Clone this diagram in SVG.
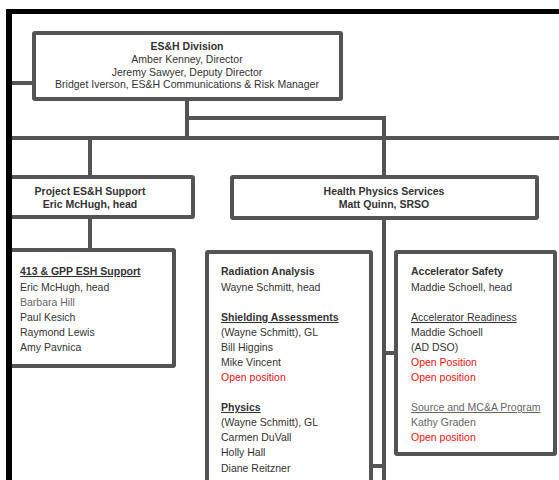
<svg xmlns="http://www.w3.org/2000/svg" width="559" height="480" viewBox="0 0 559 480">
<style>
  .box { fill: #fff; stroke: #545454; stroke-width: 4; }
  .conn { fill: none; stroke: #545454; stroke-width: 4; }
  text { font-family: "Liberation Sans", Arial, sans-serif; font-size: 10.5px; fill: #333; }
  .b { font-weight: bold; }
  .c { text-anchor: middle; }
  .u { text-decoration: underline; }
  .red { fill: #f01010; }
  .gray { fill: #666; }
  .frame { fill: #000; }
</style>
<rect width="559" height="480" fill="#fff"/>
<g id="connectors">
  <path class="conn" d="M12 83 H34"/>
  <path class="conn" d="M187 99 V138"/>
  <path class="conn" d="M187 118 H384 V138"/>
  <path class="conn" d="M10 138 H559"/>
  <path class="conn" d="M90 138 V177"/>
  <path class="conn" d="M384 138 V177"/>
  <path class="conn" d="M90 217 V250"/>
  <path class="conn" d="M384 218 V480"/>
  <path class="conn" d="M384 353 H396"/>
  <path class="conn" d="M371 466 H384"/>
</g>
<g id="esh-division">
  <rect class="box" x="34" y="33" width="307" height="66" rx="1"/>
  <text class="b c" x="187" y="50">ES&amp;H Division</text>
  <text class="c" x="187" y="63">Amber Kenney, Director</text>
  <text class="c" x="187" y="75.5">Jeremy Sawyer, Deputy Director</text>
  <text class="c" x="187" y="88">Bridget Iverson, ES&amp;H Communications &amp; Risk Manager</text>
</g>
<g id="project-esh">
  <rect class="box" x="9" y="177" width="184" height="40" rx="1"/>
  <text class="b c" x="90" y="195">Project ES&amp;H Support</text>
  <text class="b c" x="90" y="207.5">Eric McHugh, head</text>
</g>
<g id="health-physics">
  <rect class="box" x="232" y="177" width="305" height="41" rx="1"/>
  <text class="b c" x="384" y="194.5">Health Physics Services</text>
  <text class="b c" x="384" y="207.5">Matt Quinn, SRSO</text>
</g>
<g id="gpp-support">
  <rect class="box" x="9" y="250" width="165" height="116" rx="1"/>
  <text class="b u" x="20" y="275">413 &amp; GPP ESH Support</text>
  <text x="20" y="290.5">Eric McHugh, head</text>
  <text class="gray" x="20" y="305.5">Barbara Hill</text>
  <text x="20" y="321">Paul Kesich</text>
  <text x="20" y="336">Raymond Lewis</text>
  <text x="20" y="351">Amy Pavnica</text>
</g>
<g id="radiation-analysis">
  <rect class="box" x="207" y="252" width="164" height="240" rx="1"/>
  <text class="b" x="221" y="275">Radiation Analysis</text>
  <text x="221" y="290.5">Wayne Schmitt, head</text>
  <text class="b u" x="221" y="321">Shielding Assessments</text>
  <text x="221" y="336">(Wayne Schmitt), GL</text>
  <text x="221" y="351">Bill Higgins</text>
  <text x="221" y="366">Mike Vincent</text>
  <text class="red" x="221" y="381">Open position</text>
  <text class="b u" x="221" y="411">Physics</text>
  <text x="221" y="426">(Wayne Schmitt), GL</text>
  <text x="221" y="441">Carmen DuVall</text>
  <text x="221" y="456">Holly Hall</text>
  <text x="221" y="471.5">Diane Reitzner</text>
</g>
<g id="accelerator-safety">
  <rect class="box" x="396" y="252" width="159" height="202" rx="1"/>
  <text class="b" x="411" y="275">Accelerator Safety</text>
  <text x="411" y="290.5">Maddie Schoell, head</text>
  <text class="u" x="411" y="321" fill="#444">Accelerator Readiness</text>
  <text x="411" y="336">Maddie Schoell</text>
  <text x="411" y="351">(AD DSO)</text>
  <text class="red" x="411" y="366">Open Position</text>
  <text class="red" x="411" y="381">Open position</text>
  <text class="u gray" x="411" y="411">Source and MC&amp;A Program</text>
  <text class="gray" x="411" y="426">Kathy Graden</text>
  <text class="red" x="411" y="441">Open position</text>
</g>
<g id="frame">
  <rect class="frame" x="6" y="9" width="553" height="5"/>
  <rect class="frame" x="6" y="9" width="6" height="471"/>
</g>
</svg>
